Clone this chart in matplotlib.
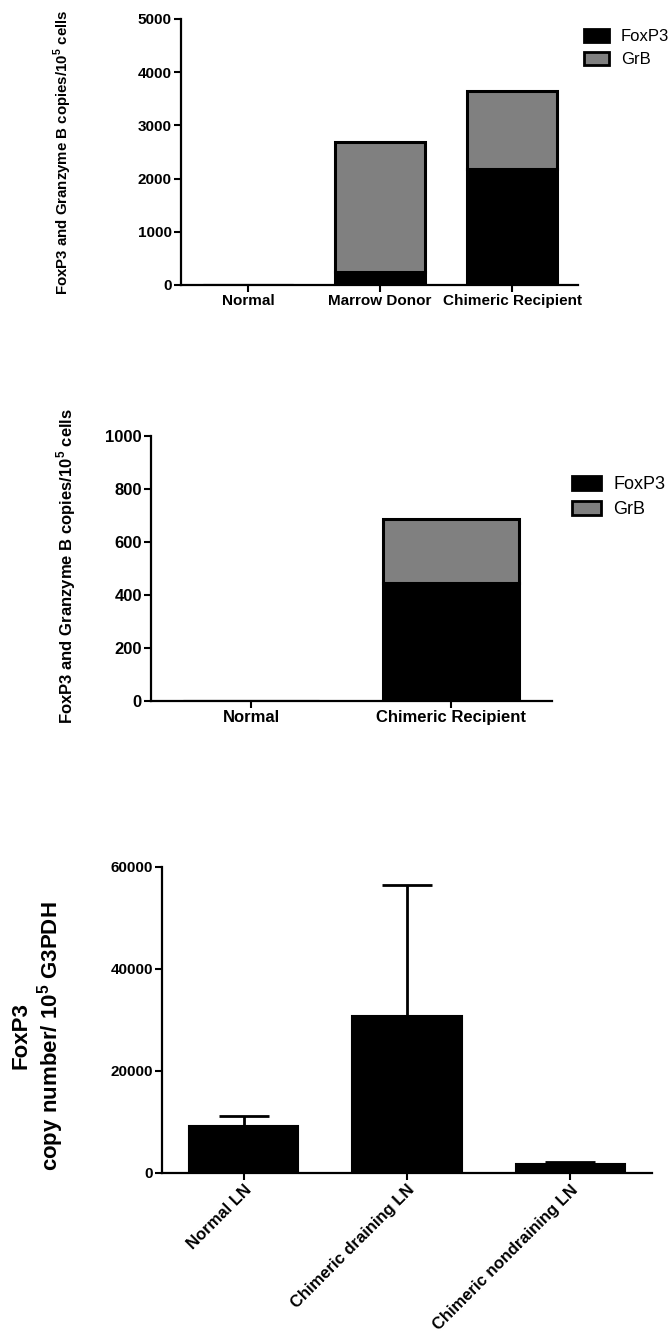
import matplotlib
matplotlib.use("Agg")
import matplotlib.pyplot as plt
import numpy as np
from matplotlib.patches import Patch

plt.rcParams['font.family'] = ['Liberation Sans', 'DejaVu Sans']
plt.rcParams['mathtext.fontset'] = 'custom'
plt.rcParams['mathtext.rm'] = 'Liberation Sans'
plt.rcParams['mathtext.bf'] = 'Liberation Sans:bold'

# ---------------- data ----------------
p1_categories = ["Normal", "Marrow Donor", "Chimeric Recipient"]
p1_foxp3 = [0, 250, 2180]
p1_grb = [0, 2430, 1470]

p2_categories = ["Normal", "Chimeric Recipient"]
p2_foxp3 = [0, 445]
p2_grb = [0, 240]

p3_categories = ["Normal LN", "Chimeric draining LN", "Chimeric nondraining LN"]
p3_values = [9200, 30800, 1800]
p3_err = [2000, 25600, 300]

W, H = 672, 1337
fig = plt.figure(figsize=(W / 100, H / 100), dpi=100)

def ax_px(left, right, top, bottom):
    return fig.add_axes([left / W, 1 - bottom / H, (right - left) / W, (bottom - top) / H])

def style(ax, fs):
    for s in ['top', 'right']:
        ax.spines[s].set_visible(False)
    for s in ['left', 'bottom']:
        ax.spines[s].set_linewidth(1.6)
    ax.tick_params(axis='both', width=1.5, length=5, direction='out', labelsize=fs, pad=1.5)
    for lab in ax.get_xticklabels() + ax.get_yticklabels():
        lab.set_fontweight('bold')

FOX = 'black'
GRB = '#808080'
ylab = r'FoxP3 and Granzyme B copies/10$^{\mathbf{5}}$ cells'

# ---------------- panel 1 ----------------
ax1 = ax_px(181, 578, 19, 285)
x1 = np.arange(len(p1_categories))
ax1.bar(x1, p1_foxp3, width=0.68, color=FOX, edgecolor='black', linewidth=2.2)
ax1.bar(x1, p1_grb, bottom=p1_foxp3, width=0.68, color=GRB, edgecolor='black', linewidth=2.2)
ax1.set_xlim(-0.508, 2.5)
ax1.set_ylim(0, 5000)
ax1.set_yticks([0, 1000, 2000, 3000, 4000, 5000])
ax1.set_xticks(x1)
ax1.set_xticklabels(p1_categories)
style(ax1, 11)
fig.text(63 / W, 1 - 152 / H, ylab, rotation=90, ha='center', va='center',
         fontsize=10.8, fontweight='bold')
handles = [Patch(facecolor=FOX, edgecolor='black', linewidth=2, label='FoxP3'),
           Patch(facecolor=GRB, edgecolor='black', linewidth=2, label='GrB')]
fig.legend(handles=handles, loc='upper left', bbox_to_anchor=(584 / W, 1 - 29 / H),
           frameon=False, fontsize=12, handlelength=1.5, handleheight=0.85,
           handletextpad=0.7, labelspacing=0.45, borderpad=0, borderaxespad=0)

# ---------------- panel 2 ----------------
ax2 = ax_px(151, 552, 436, 701)
x2 = np.arange(len(p2_categories))
ax2.bar(x2, p2_foxp3, width=0.68, color=FOX, edgecolor='black', linewidth=2.2)
ax2.bar(x2, p2_grb, bottom=p2_foxp3, width=0.68, color=GRB, edgecolor='black', linewidth=2.2)
ax2.set_xlim(-0.5, 1.505)
ax2.set_ylim(0, 1000)
ax2.set_yticks([0, 200, 400, 600, 800, 1000])
ax2.set_xticks(x2)
ax2.set_xticklabels(p2_categories)
style(ax2, 12)
fig.text(66 / W, 1 - 566 / H, ylab, rotation=90, ha='center', va='center',
         fontsize=12, fontweight='bold')
fig.legend(handles=handles, loc='upper left', bbox_to_anchor=(572 / W, 1 - 476 / H),
           frameon=False, fontsize=13, handlelength=1.6, handleheight=0.8,
           handletextpad=0.7, labelspacing=0.45, borderpad=0, borderaxespad=0)

# ---------------- panel 3 ----------------
ax3 = ax_px(162, 652, 867, 1173)
x3 = np.arange(len(p3_categories))
ax3.bar(x3, p3_values, width=0.67, color='black', edgecolor='black', linewidth=1.5)
ax3.errorbar(x3, p3_values, yerr=[np.zeros(len(p3_err)), p3_err], fmt='none',
             ecolor='black', elinewidth=2, capsize=18, capthick=2)
ax3.set_xlim(-0.5, 2.5)
ax3.set_ylim(0, 60000)
ax3.set_yticks([0, 20000, 40000, 60000])
ax3.set_xticks(x3)
ax3.set_xticklabels(p3_categories, rotation=45, ha='right', rotation_mode='anchor')
style(ax3, 11)
for lab in ax3.get_xticklabels():
    lab.set_fontweight('bold')
    lab.set_fontsize(12)
fig.text(38 / W, 1 - 1036 / H, 'FoxP3\n' + r'copy number/ 10$^{\mathbf{5}}$ G3PDH',
         rotation=90, ha='center', va='center', fontsize=16, fontweight='bold',
         multialignment='center', linespacing=1.15)

fig.savefig('out.png', dpi=100)
